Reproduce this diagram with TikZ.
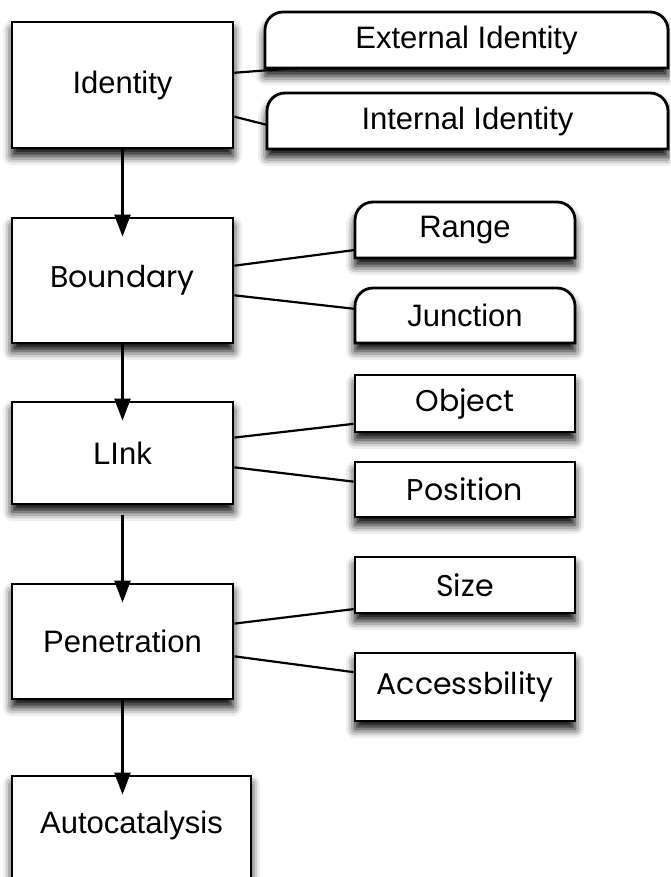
\documentclass[tikz,border=0pt]{standalone}
\usepackage{fontspec}
\newfontfamily\hel{Liberation Sans}
\newfontfamily\geo{Poppins}
\usetikzlibrary{arrows.meta,calc,shadows.blur}
\tikzset{
  shad/.style={blur shadow={shadow xshift=0pt, shadow yshift=-8pt, shadow blur radius=9pt, shadow opacity=100}},
  helf/.style={font=\hel\fontsize{31}{36}\selectfont},
  geof/.style={font=\geo\fontsize{30}{36}\selectfont},
  boxline/.style={draw, line width=2.8pt, fill=white, shad},
  mainbox/.style={boxline, inner sep=0pt, minimum width=221pt},
  sidebox/.style={boxline, inner sep=0pt, minimum width=220pt},
  tabtext/.style={inner sep=0pt, helf},
  tabdraw/.style={line width=2.8pt, fill=white, shad},
  conn/.style={line width=2.2pt},
  flow/.style={line width=2.5pt, -{Triangle[width=16pt,length=22pt,fill=black]}, shorten >=-20pt},
}
% \tabbox{name}{x1}{ytop}{x2}{ybottom}{text}
\newcommand\tabbox[6]{%
  \coordinate (#1sw) at (#2,#5);
  \coordinate (#1nw) at (#2,#3);
  \coordinate (#1ne) at (#4,#3);
  \coordinate (#1se) at (#4,#5);
  \draw[tabdraw] (#1sw) [rounded corners=18pt] -- (#1nw) -- (#1ne) [sharp corners] -- (#1se) -- cycle;
  \node[tabtext, minimum width=#4pt-#2pt, minimum height=#5pt-#3pt] (#1) at ($(#1sw)!0.5!(#1ne)$) {#6};
}
\begin{document}
\begin{tikzpicture}[x=1pt,y=-1pt]
\useasboundingbox (0,0) rectangle (670,877);
\clip (0,0) rectangle (670,877);

% main column
\node[mainbox, helf, minimum height=126pt] (id) at (122.5,85) {Identity};
\node[mainbox, geof, minimum height=125pt] (bnd) at (122.5,280.5) {Boundary};
\node[mainbox, helf, minimum height=102pt] (lnk) at (122.5,453) {LInk};
\node[mainbox, helf, minimum height=115pt] (pen) at (122.5,641.5) {Penetration};
\node[boxline, inner sep=0pt, minimum width=239pt, minimum height=120pt,
      label={[helf, yshift=11pt]center:Autocatalysis}] (aut) at (131.5,836) {};

% tab-shaped boxes
\tabbox{ext}{265}{12}{668}{68}{External Identity}
\tabbox{int}{267}{93}{668}{149}{Internal Identity}
\tabbox{rng}{355}{202}{575}{258}{Range}
\tabbox{jun}{355}{288}{575}{343}{Junction}

% side boxes
\node[sidebox, geof, minimum height=57pt] (obj) at (465,403.5) {Object};
\node[sidebox, geof, minimum height=55pt] (pos) at (465,489.5) {Position};
\node[sidebox, geof, minimum height=56pt] (siz) at (465,585) {Size};
\node[sidebox, geof, minimum height=68pt] (acc) at (465,687) {Accessbility};

% flow arrows
\draw[flow] (id.south) -- (bnd.north);
\draw[flow] (bnd.south) -- (lnk.north);
\draw[flow, shorten <=10pt] (lnk.south) -- (pen.north);
\draw[flow] (pen.south) -- (pen.south |- aut.north);

% connectors
\draw[conn] ($(id.north east)!0.405!(id.south east)$) -- ($(extsw)!0.08!(extse)$);
\draw[conn] ($(id.north east)!0.746!(id.south east)$) -- ($(intnw)!0.57!(intsw)$);
\draw[conn] ($(bnd.north east)!0.384!(bnd.south east)$) -- ($(rngnw)!0.857!(rngsw)$);
\draw[conn] ($(bnd.north east)!0.616!(bnd.south east)$) -- ($(junnw)!0.38!(junsw)$);
\draw[conn] ($(lnk.north east)!0.353!(lnk.south east)$) -- ($(obj.north west)!0.84!(obj.south west)$);
\draw[conn] ($(lnk.north east)!0.637!(lnk.south east)$) -- ($(pos.north west)!0.364!(pos.south west)$);
\draw[conn] ($(pen.north east)!0.348!(pen.south east)$) -- ($(siz.north west)!0.91!(siz.south west)$);
\draw[conn] ($(pen.north east)!0.626!(pen.south east)$) -- ($(acc.north west)!0.29!(acc.south west)$);
\end{tikzpicture}
\end{document}
